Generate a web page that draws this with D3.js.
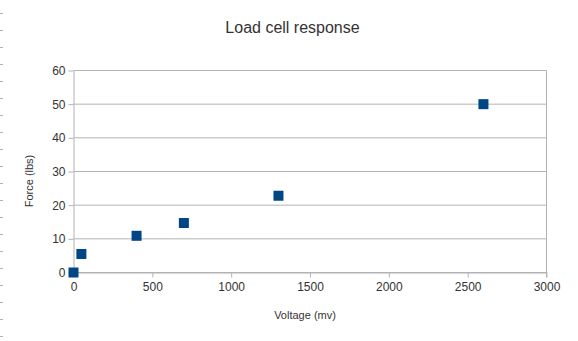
<!DOCTYPE html>
<html><head><meta charset="utf-8">
<script src="https://cdn.jsdelivr.net/npm/d3@7"></script>
<style>body{margin:0;background:#fff}svg{display:block}</style>
</head><body>
<script>
const title = "Load cell response";
const xLabel = "Voltage (mv)";
const yLabel = "Force (lbs)";
const voltage = [0, 50, 400, 700, 1300, 2600];
const force = [0, 5.5, 10.9, 14.7, 22.8, 50];
const xTicks = [0, 500, 1000, 1500, 2000, 2500, 3000];
const yTicks = [0, 10, 20, 30, 40, 50, 60];

const W = 578, H = 341;
const svg = d3.select("body").append("svg").attr("width", W).attr("height", H);
const font = "'Liberation Sans', Arial, sans-serif";

// left page-edge marks
const marks = d3.range(0, 20);
svg.selectAll("line.mark").data(marks).enter().append("line")
  .attr("x1", 0).attr("x2", 3)
  .attr("y1", d => 13.5 + d * 17).attr("y2", d => 13.5 + d * 17)
  .attr("stroke", "#b3b3b3").attr("stroke-width", 1);

const x = d3.scaleLinear().domain([0, 3000]).range([73.5, 546.5]);
const y = d3.scaleLinear().domain([0, 60]).range([272.5, 70.5]);

const g = svg.append("g");
g.selectAll("line.grid").data(yTicks).enter().append("line")
  .attr("x1", x(0)).attr("x2", x(3000))
  .attr("y1", d => y(d)).attr("y2", d => y(d))
  .attr("stroke", "#b3b3b3");
g.append("line").attr("x1", x(3000)).attr("x2", x(3000)).attr("y1", y(60)).attr("y2", y(0) + 5).attr("stroke", "#b3b3b3");

const xAxis = d3.axisBottom(x).tickValues(xTicks).tickFormat(d3.format("d")).tickSize(5).tickPadding(5).tickSizeOuter(0);
const yAxis = d3.axisLeft(y).tickValues(yTicks).tickFormat(d3.format("d")).tickSize(5).tickPadding(3).tickSizeOuter(0);

const gx = svg.append("g").attr("transform", `translate(0,${y(0)})`).call(xAxis);
const gy = svg.append("g").attr("transform", `translate(${x(0)},0)`).call(yAxis);
[gx, gy].forEach(a => {
  a.select(".domain").attr("stroke", "#b3b3b3");
  a.selectAll(".tick line").attr("stroke", "#b3b3b3");
  a.selectAll("text").attr("font-family", font).attr("font-size", 12).attr("fill", "#333");
});

svg.selectAll("rect.pt").data(voltage).enter().append("rect")
  .attr("x", (d, i) => x(d) - 5).attr("y", (d, i) => y(force[i]) - 5)
  .attr("width", 10).attr("height", 10)
  .attr("fill", "#004586");

svg.append("text").attr("x", 292.5).attr("y", 33).attr("text-anchor", "middle")
  .attr("font-family", font).attr("font-size", 16).attr("fill", "#333").text(title);
svg.append("text").attr("x", 305).attr("y", 319).attr("text-anchor", "middle")
  .attr("font-family", font).attr("font-size", 11).attr("fill", "#333").text(xLabel);
svg.append("text").attr("transform", "translate(33,181) rotate(-90)").attr("text-anchor", "middle")
  .attr("font-family", font).attr("font-size", 11).attr("fill", "#333").text(yLabel);
</script>
</body></html>
